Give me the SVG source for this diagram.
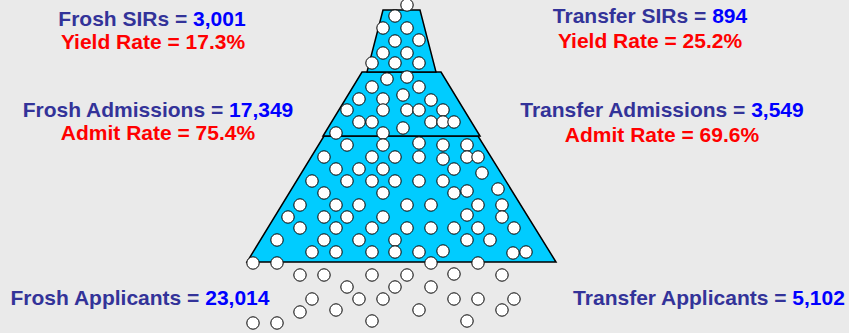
<svg xmlns="http://www.w3.org/2000/svg" width="849" height="333" viewBox="0 0 849 333">
<style>
.bg{fill:#EAEAEA}
.tier{fill:#00CCFF;stroke:#000;stroke-width:1.5;stroke-linejoin:miter}
.dot{fill:#FFFFFF;stroke:#000;stroke-width:1}
text{font-family:"Liberation Sans",Arial,sans-serif;font-weight:bold;font-size:21px;text-anchor:middle}
.lb{fill:#333399}
.nm{fill:#0000FF}
.rt{fill:#FF0000}
</style>
<defs><circle id="d" class="dot" r="6.2" cx="0" cy="0"/></defs>
<rect class="bg" x="0" y="0" width="849" height="333"/>
<g id="funnel">
<polygon class="tier" points="247,262 556,262 478,136 324,136"/>
<polygon class="tier" points="323,136 480,136 441,72 362,72"/>
<polygon class="tier" points="367,72 436,72 420,10 383,10"/>
</g>
<g id="dots">
<use href="#d" x="407" y="5"/><use href="#d" x="395" y="16"/><use href="#d" x="383" y="28"/><use href="#d" x="407" y="28"/><use href="#d" x="395" y="41"/><use href="#d" x="419" y="40"/><use href="#d" x="383" y="53"/><use href="#d" x="407" y="53"/><use href="#d" x="372" y="63"/><use href="#d" x="395" y="63"/><use href="#d" x="419" y="63"/>
<use href="#d" x="407" y="77"/><use href="#d" x="387" y="79"/><use href="#d" x="372" y="87"/><use href="#d" x="419" y="87"/><use href="#d" x="403" y="95"/><use href="#d" x="359" y="99"/><use href="#d" x="383" y="99"/><use href="#d" x="431" y="100"/><use href="#d" x="347" y="110"/><use href="#d" x="383" y="110"/><use href="#d" x="407" y="110"/><use href="#d" x="419" y="110"/><use href="#d" x="443" y="110"/><use href="#d" x="359" y="122"/><use href="#d" x="372" y="122"/><use href="#d" x="431" y="122"/><use href="#d" x="443" y="122"/><use href="#d" x="454" y="122"/><use href="#d" x="403" y="128"/><use href="#d" x="336" y="133"/><use href="#d" x="383" y="133"/>
<use href="#d" x="419" y="143"/><use href="#d" x="347" y="145"/><use href="#d" x="383" y="145"/><use href="#d" x="443" y="145"/><use href="#d" x="467" y="145"/>
<use href="#d" x="324" y="157"/><use href="#d" x="372" y="157"/><use href="#d" x="395" y="157"/><use href="#d" x="419" y="157"/><use href="#d" x="443" y="159"/><use href="#d" x="467" y="157"/><use href="#d" x="478" y="157"/>
<use href="#d" x="336" y="169"/><use href="#d" x="359" y="169"/><use href="#d" x="383" y="169"/><use href="#d" x="454" y="169"/><use href="#d" x="482" y="173"/>
<use href="#d" x="312" y="181"/><use href="#d" x="347" y="181"/><use href="#d" x="372" y="181"/><use href="#d" x="395" y="181"/><use href="#d" x="419" y="181"/><use href="#d" x="443" y="181"/>
<use href="#d" x="324" y="193"/><use href="#d" x="383" y="193"/><use href="#d" x="454" y="193"/><use href="#d" x="467" y="191"/><use href="#d" x="498" y="189"/>
<use href="#d" x="300" y="205"/><use href="#d" x="336" y="205"/><use href="#d" x="359" y="205"/><use href="#d" x="407" y="205"/><use href="#d" x="431" y="205"/><use href="#d" x="478" y="205"/><use href="#d" x="502" y="205"/>
<use href="#d" x="288" y="217"/><use href="#d" x="324" y="217"/><use href="#d" x="347" y="217"/><use href="#d" x="383" y="217"/><use href="#d" x="467" y="215"/><use href="#d" x="502" y="217"/>
<use href="#d" x="300" y="228"/><use href="#d" x="336" y="228"/><use href="#d" x="372" y="228"/><use href="#d" x="407" y="228"/><use href="#d" x="431" y="228"/><use href="#d" x="454" y="228"/><use href="#d" x="478" y="228"/><use href="#d" x="514" y="228"/>
<use href="#d" x="277" y="240"/><use href="#d" x="324" y="240"/><use href="#d" x="359" y="240"/><use href="#d" x="395" y="240"/><use href="#d" x="467" y="240"/><use href="#d" x="490" y="240"/>
<use href="#d" x="312" y="252"/><use href="#d" x="336" y="252"/><use href="#d" x="372" y="252"/><use href="#d" x="395" y="252"/><use href="#d" x="419" y="252"/><use href="#d" x="443" y="251"/><use href="#d" x="513" y="253"/><use href="#d" x="526" y="252"/>
<use href="#d" x="253" y="263"/><use href="#d" x="277" y="263"/><use href="#d" x="431" y="263"/><use href="#d" x="478" y="263"/>
<use href="#d" x="300" y="275"/><use href="#d" x="324" y="275"/><use href="#d" x="372" y="275"/><use href="#d" x="407" y="275"/><use href="#d" x="454" y="274"/><use href="#d" x="502" y="275"/>
<use href="#d" x="347" y="287"/><use href="#d" x="395" y="287"/><use href="#d" x="431" y="287"/>
<use href="#d" x="312" y="299"/><use href="#d" x="359" y="299"/><use href="#d" x="383" y="299"/><use href="#d" x="454" y="299"/><use href="#d" x="478" y="299"/><use href="#d" x="514" y="299"/>
<use href="#d" x="300" y="312"/><use href="#d" x="336" y="310"/><use href="#d" x="419" y="310"/><use href="#d" x="502" y="310"/>
<use href="#d" x="253" y="323"/><use href="#d" x="277" y="323"/><use href="#d" x="372" y="321"/><use href="#d" x="467" y="321"/>
</g>
<g id="frosh-sirs">
<text x="152" y="26"><tspan class="lb">Frosh SIRs = </tspan><tspan class="nm">3,001</tspan></text>
<text class="rt" x="153" y="49">Yield Rate = 17.3%</text>
</g>
<g id="frosh-admissions">
<text x="158" y="117"><tspan class="lb">Frosh Admissions = </tspan><tspan class="nm">17,349</tspan></text>
<text class="rt" x="158" y="140">Admit Rate = 75.4%</text>
</g>
<g id="transfer-sirs">
<text x="650" y="23"><tspan class="lb">Transfer SIRs = </tspan><tspan class="nm">894</tspan></text>
<text class="rt" x="650" y="48">Yield Rate = 25.2%</text>
</g>
<g id="transfer-admissions">
<text x="662" y="117"><tspan class="lb">Transfer Admissions = </tspan><tspan class="nm">3,549</tspan></text>
<text class="rt" x="662" y="141.5">Admit Rate = 69.6%</text>
</g>
<g id="frosh-applicants">
<text x="140" y="305"><tspan class="lb">Frosh Applicants = </tspan><tspan class="nm">23,014</tspan></text>
</g>
<g id="transfer-applicants">
<text x="709" y="305"><tspan class="lb">Transfer Applicants = </tspan><tspan class="nm">5,102</tspan></text>
</g>
</svg>
